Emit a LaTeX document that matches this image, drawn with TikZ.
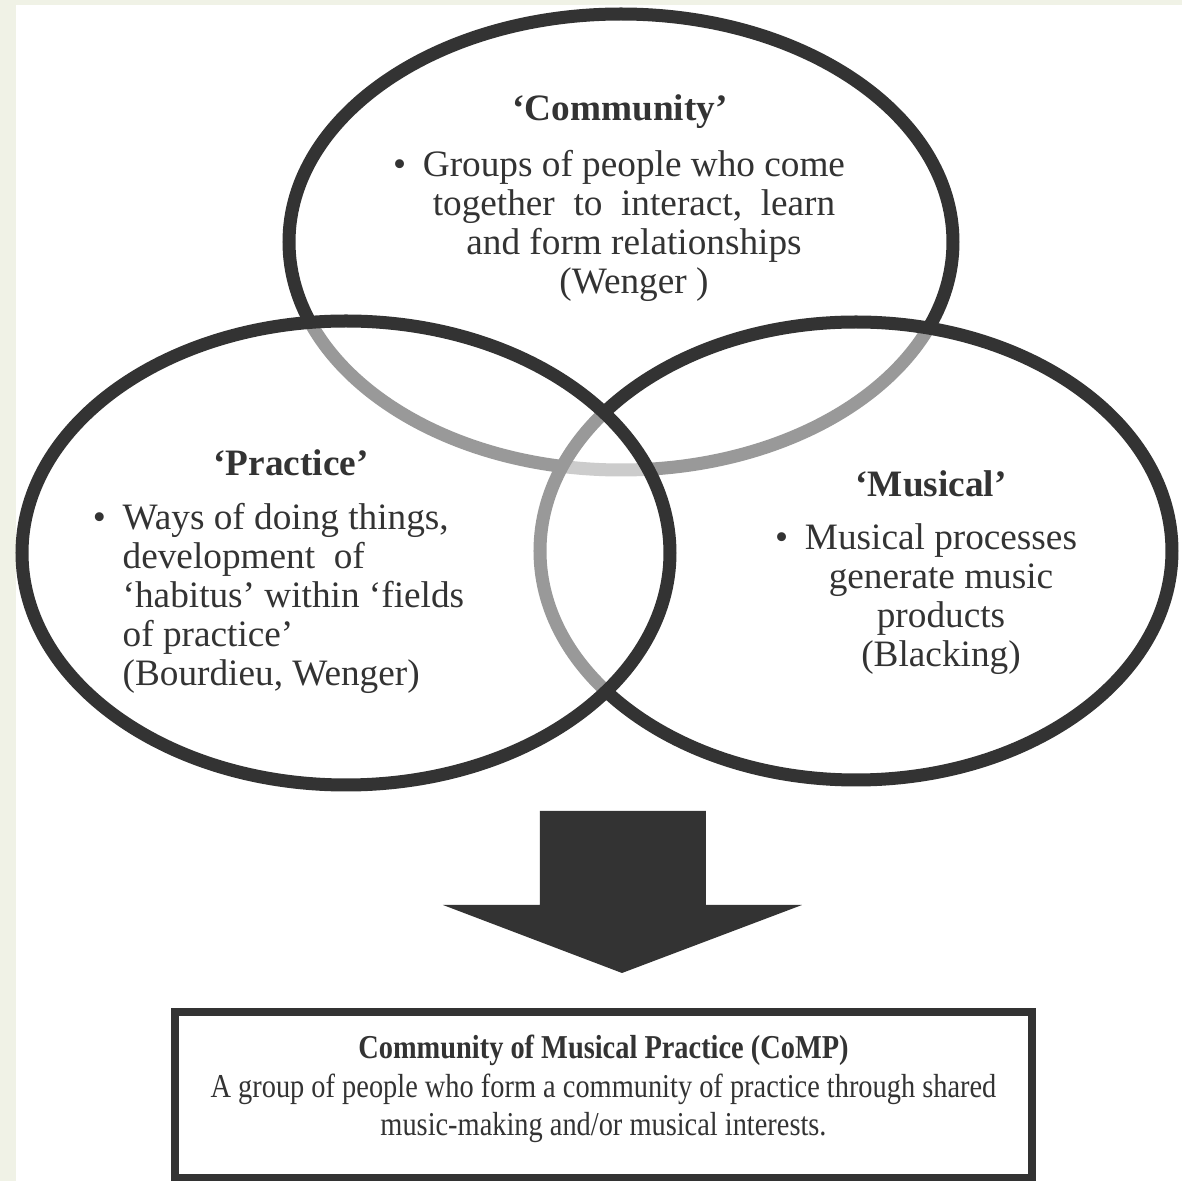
\documentclass[tikz,border=0pt]{standalone}
\usepackage{fontspec}
\setmainfont{Liberation Serif}
\newfontfamily\condfont[FakeStretch=0.85]{Liberation Serif}

\definecolor{ink}{HTML}{333333}
\definecolor{band}{HTML}{F0F2E6}

\newcommand\ellfont{\fontsize{10.6}{11.1}\selectfont}
\newcommand\bul{\llap{\textbullet\hspace{0.45em}}}

\begin{document}
\begin{tikzpicture}[
          ring/.style={draw=ink, line width=3.7pt, fill=white, fill opacity=0.5},
          heading/.style={font=\ellfont\bfseries, text=ink, inner sep=0pt},
          body/.style={font=\ellfont, text=ink, inner sep=0pt},
          compbox/.style={draw=ink, line width=2pt, minimum width=8.57cm, minimum height=1.66cm},
          comptext/.style={font=\condfont\fontsize{9.5}{10.9}\selectfont, text=ink, inner sep=0pt, align=center},
        ]
          \useasboundingbox (0,0) rectangle (11.82,-11.81);
          \fill[band]  (0,0) rectangle (11.82,-11.81);
          \fill[white] (0.16,-0.05) rectangle (11.82,-11.81);

          \coordinate (comm) at (6.21, -2.42);
          \coordinate (prac) at (3.46, -5.53);
          \coordinate (musi) at (8.56, -5.51);
          \draw[ring] (comm) ellipse [x radius=3.32, y radius=2.28];
          \draw[ring] (musi) ellipse [x radius=3.16, y radius=2.29];
          \draw[ring] (prac) ellipse [x radius=3.24, y radius=2.32];

          \node[heading] (commtitle) at (6.20, -1.12) {`Community'};
          \node[body, align=center] (commbody) at (6.34, -2.26)
            {\bul Groups of people who come\\ together\ \ to\ \ interact,\ \ learn\\
             and form relationships\\ (Wenger )};

          \node[heading] (practitle) at (2.91, -4.63) {`Practice'};
          \node[body, align=left, anchor=west] (pracbody) at (1.22, -5.98)
            {\bul Ways of doing things,\\ development\ \ of\\ `habitus' within `fields\\
             of practice'\\ (Bourdieu, Wenger)};

          \node[heading] (musititle) at (9.31, -4.84) {`Musical'};
          \node[body, align=center] (musibody) at (9.41, -5.99)
            {\bul Musical processes\\ generate music\\ products\\ (Blacking)};

          \fill[ink] (5.40, -8.11) -- (7.06, -8.11) -- (7.06, -9.05) -- (8.02, -9.05)
            -- (6.22, -9.73) -- (4.43, -9.05) -- (5.40, -9.05) -- cycle;

          \node[compbox] (comp) at (6.035, -10.95) {};
          \node[comptext] (comptxt) at ([yshift=0.06cm]comp.center)
            {\textbf{Community of Musical Practice (CoMP)}\\
             A group of people who form a community of practice through shared\\
             music-making and/or musical interests.};
        \end{tikzpicture}
\end{document}
